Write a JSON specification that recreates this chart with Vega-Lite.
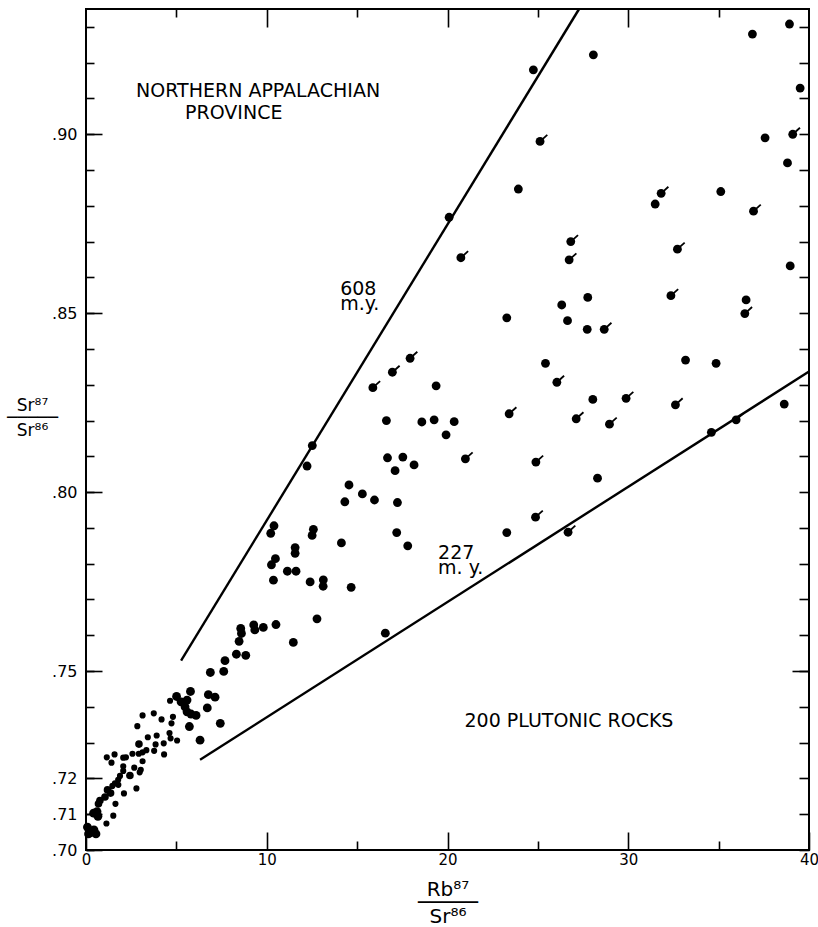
{
  "$schema": "https://vega.github.io/schema/vega-lite/v6.json",
  "width": 723,
  "height": 841,
  "autosize": {"type": "none"},
  "padding": {"left": 86, "top": 9, "right": 9, "bottom": 77},
  "background": "white",
  "config": {
    "view": {"stroke": "black", "strokeWidth": 2},
    "axis": {
      "domain": false, "grid": false, "tickColor": "black", "tickWidth": 1.6,
      "labelFont": "DejaVu Sans", "labelFontSize": 16, "labelColor": "black",
      "titleFont": "DejaVu Sans", "titleColor": "black", "titleFontWeight": "normal",
      "labelFlush": false, "labelOverlap": false
    }
  },
  "datasets": {
    "rocks": [
      {"rb":24.75,"sr":0.918,"group":"L","flag":0},{"rb":28.07,"sr":0.9222,"group":"L","flag":0},{"rb":36.87,"sr":0.928,"group":"L","flag":0},{"rb":38.92,"sr":0.9308,"group":"L","flag":0},{"rb":39.51,"sr":0.9129,"group":"L","flag":0},{"rb":25.12,"sr":0.898,"group":"L","flag":1},{"rb":37.57,"sr":0.899,"group":"L","flag":0},{"rb":39.1,"sr":0.9,"group":"L","flag":1},{"rb":38.81,"sr":0.892,"group":"L","flag":0},{"rb":23.92,"sr":0.8847,"group":"L","flag":0},{"rb":31.82,"sr":0.8835,"group":"L","flag":1},{"rb":31.49,"sr":0.8805,"group":"L","flag":0},{"rb":35.12,"sr":0.884,"group":"L","flag":0},{"rb":36.93,"sr":0.8785,"group":"L","flag":1},{"rb":26.82,"sr":0.87,"group":"L","flag":1},{"rb":26.73,"sr":0.8649,"group":"L","flag":1},{"rb":32.72,"sr":0.8679,"group":"L","flag":1},{"rb":38.96,"sr":0.8632,"group":"L","flag":0},
      {"rb":26.32,"sr":0.8523,"group":"L","flag":0},{"rb":27.76,"sr":0.8544,"group":"L","flag":0},{"rb":26.64,"sr":0.8479,"group":"L","flag":0},{"rb":27.73,"sr":0.8455,"group":"L","flag":0},{"rb":28.67,"sr":0.8455,"group":"L","flag":1},{"rb":32.36,"sr":0.8549,"group":"L","flag":1},{"rb":36.52,"sr":0.8537,"group":"L","flag":0},{"rb":36.45,"sr":0.8499,"group":"L","flag":1},{"rb":25.42,"sr":0.836,"group":"L","flag":0},{"rb":26.05,"sr":0.8307,"group":"L","flag":1},{"rb":33.17,"sr":0.8369,"group":"L","flag":0},{"rb":34.86,"sr":0.836,"group":"L","flag":0},{"rb":28.04,"sr":0.8259,"group":"L","flag":0},{"rb":29.88,"sr":0.8262,"group":"L","flag":1},{"rb":27.12,"sr":0.8205,"group":"L","flag":1},{"rb":28.96,"sr":0.819,"group":"L","flag":1},{"rb":32.61,"sr":0.8244,"group":"L","flag":1},{"rb":38.63,"sr":0.8246,"group":"L","flag":0},{"rb":35.97,"sr":0.8202,"group":"L","flag":1},{"rb":34.6,"sr":0.8167,"group":"L","flag":0},{"rb":24.89,"sr":0.8084,"group":"L","flag":1},{"rb":28.3,"sr":0.8039,"group":"L","flag":0},{"rb":24.87,"sr":0.793,"group":"L","flag":1},{"rb":26.67,"sr":0.7888,"group":"L","flag":1},
      {"rb":20.09,"sr":0.8768,"group":"L","flag":0},{"rb":20.74,"sr":0.8655,"group":"L","flag":1},{"rb":23.28,"sr":0.8487,"group":"L","flag":0},{"rb":17.93,"sr":0.8374,"group":"L","flag":1},{"rb":16.95,"sr":0.8335,"group":"L","flag":1},{"rb":15.87,"sr":0.8292,"group":"L","flag":1},{"rb":19.37,"sr":0.8297,"group":"L","flag":0},
      {"rb":23.41,"sr":0.8219,"group":"L","flag":1},{"rb":16.62,"sr":0.82,"group":"L","flag":0},{"rb":18.58,"sr":0.8196,"group":"L","flag":0},{"rb":19.26,"sr":0.8202,"group":"L","flag":0},{"rb":20.37,"sr":0.8197,"group":"L","flag":0},{"rb":19.92,"sr":0.816,"group":"L","flag":0},{"rb":16.68,"sr":0.8096,"group":"L","flag":0},{"rb":17.53,"sr":0.8098,"group":"L","flag":0},{"rb":17.1,"sr":0.806,"group":"L","flag":0},{"rb":18.15,"sr":0.8076,"group":"L","flag":0},{"rb":20.99,"sr":0.8093,"group":"L","flag":1},{"rb":15.29,"sr":0.7995,"group":"L","flag":0},{"rb":15.96,"sr":0.7978,"group":"L","flag":0},{"rb":17.23,"sr":0.7971,"group":"L","flag":0},{"rb":17.19,"sr":0.7887,"group":"L","flag":0},{"rb":17.8,"sr":0.785,"group":"L","flag":0},{"rb":23.28,"sr":0.7887,"group":"L","flag":0},
      {"rb":12.52,"sr":0.813,"group":"L","flag":0},{"rb":12.23,"sr":0.8073,"group":"L","flag":0},{"rb":14.55,"sr":0.802,"group":"L","flag":0},{"rb":14.32,"sr":0.7973,"group":"L","flag":0},{"rb":10.4,"sr":0.7906,"group":"L","flag":0},{"rb":10.22,"sr":0.7885,"group":"L","flag":0},{"rb":12.58,"sr":0.7896,"group":"L","flag":0},{"rb":12.51,"sr":0.7879,"group":"L","flag":0},{"rb":11.57,"sr":0.7845,"group":"L","flag":0},{"rb":11.57,"sr":0.7829,"group":"L","flag":0},{"rb":14.13,"sr":0.7858,"group":"L","flag":0},{"rb":10.48,"sr":0.7814,"group":"L","flag":0},{"rb":10.26,"sr":0.7797,"group":"L","flag":0},{"rb":11.14,"sr":0.7779,"group":"L","flag":0},{"rb":11.62,"sr":0.7779,"group":"L","flag":0},{"rb":10.37,"sr":0.7754,"group":"L","flag":0},{"rb":12.4,"sr":0.7749,"group":"L","flag":0},{"rb":13.13,"sr":0.7755,"group":"L","flag":0},{"rb":13.12,"sr":0.7737,"group":"L","flag":0},{"rb":14.67,"sr":0.7734,"group":"L","flag":0},{"rb":12.78,"sr":0.7646,"group":"L","flag":0},{"rb":16.56,"sr":0.7606,"group":"L","flag":0},{"rb":8.56,"sr":0.7619,"group":"L","flag":0},{"rb":8.6,"sr":0.7605,"group":"L","flag":0},{"rb":9.28,"sr":0.7629,"group":"L","flag":0},{"rb":9.34,"sr":0.7615,"group":"L","flag":0},{"rb":9.81,"sr":0.7622,"group":"L","flag":0},{"rb":10.51,"sr":0.763,"group":"L","flag":0},{"rb":11.47,"sr":0.758,"group":"L","flag":0},{"rb":8.47,"sr":0.7583,"group":"L","flag":0},{"rb":7.69,"sr":0.7529,"group":"L","flag":0},{"rb":8.32,"sr":0.7547,"group":"L","flag":0},{"rb":8.84,"sr":0.7544,"group":"L","flag":0},{"rb":6.88,"sr":0.7496,"group":"L","flag":0},{"rb":7.62,"sr":0.7499,"group":"L","flag":0},
      {"rb":5.78,"sr":0.7443,"group":"L","flag":0},{"rb":5.59,"sr":0.7419,"group":"L","flag":0},{"rb":5.01,"sr":0.7429,"group":"L","flag":0},{"rb":5.26,"sr":0.7414,"group":"L","flag":0},{"rb":5.48,"sr":0.74,"group":"L","flag":0},{"rb":5.59,"sr":0.7386,"group":"L","flag":0},{"rb":5.81,"sr":0.738,"group":"L","flag":0},{"rb":6.09,"sr":0.7376,"group":"L","flag":0},{"rb":6.77,"sr":0.7434,"group":"L","flag":0},{"rb":7.14,"sr":0.7427,"group":"L","flag":0},{"rb":6.71,"sr":0.7397,"group":"L","flag":0},{"rb":5.72,"sr":0.7345,"group":"L","flag":0},{"rb":6.31,"sr":0.7307,"group":"L","flag":0},{"rb":7.43,"sr":0.7354,"group":"L","flag":0},
      {"rb":0.42,"sr":0.7103,"group":"L","flag":0},{"rb":0.61,"sr":0.7107,"group":"L","flag":0},{"rb":0.66,"sr":0.7094,"group":"L","flag":0},{"rb":0.08,"sr":0.7064,"group":"L","flag":0},{"rb":0.22,"sr":0.7048,"group":"L","flag":0},{"rb":0.44,"sr":0.7056,"group":"L","flag":0},{"rb":0.55,"sr":0.7045,"group":"L","flag":0},{"rb":0.14,"sr":0.7045,"group":"L","flag":0},
      {"rb":2.93,"sr":0.7296,"group":"M","flag":0},{"rb":2.43,"sr":0.7208,"group":"M","flag":0},{"rb":1.19,"sr":0.7168,"group":"M","flag":0},{"rb":1.36,"sr":0.7159,"group":"M","flag":0},{"rb":0.77,"sr":0.7138,"group":"M","flag":0},{"rb":0.69,"sr":0.7129,"group":"M","flag":0},{"rb":1.05,"sr":0.7148,"group":"M","flag":0},
      {"rb":4.65,"sr":0.7417,"group":"S","flag":0},{"rb":3.13,"sr":0.7376,"group":"S","flag":0},{"rb":3.75,"sr":0.7382,"group":"S","flag":0},{"rb":4.18,"sr":0.7365,"group":"S","flag":0},{"rb":4.81,"sr":0.7372,"group":"S","flag":0},{"rb":4.73,"sr":0.7354,"group":"S","flag":0},{"rb":2.84,"sr":0.7346,"group":"S","flag":0},{"rb":4.62,"sr":0.7327,"group":"S","flag":0},{"rb":4.68,"sr":0.7312,"group":"S","flag":0},{"rb":5.04,"sr":0.7306,"group":"S","flag":0},{"rb":3.91,"sr":0.732,"group":"S","flag":0},{"rb":3.42,"sr":0.7315,"group":"S","flag":0},{"rb":4.3,"sr":0.7298,"group":"S","flag":0},{"rb":3.85,"sr":0.7295,"group":"S","flag":0},{"rb":3.34,"sr":0.7279,"group":"S","flag":0},{"rb":3.13,"sr":0.7273,"group":"S","flag":0},{"rb":2.92,"sr":0.7269,"group":"S","flag":0},{"rb":3.77,"sr":0.7277,"group":"S","flag":0},{"rb":4.32,"sr":0.7267,"group":"S","flag":0},{"rb":2.57,"sr":0.7269,"group":"S","flag":0},{"rb":2.21,"sr":0.7259,"group":"S","flag":0},{"rb":2.06,"sr":0.7258,"group":"S","flag":0},{"rb":1.15,"sr":0.7259,"group":"S","flag":0},{"rb":1.58,"sr":0.7267,"group":"S","flag":0},{"rb":1.41,"sr":0.7244,"group":"S","flag":0},{"rb":3.13,"sr":0.7248,"group":"S","flag":0},{"rb":3.03,"sr":0.7224,"group":"S","flag":0},{"rb":2.67,"sr":0.723,"group":"S","flag":0},{"rb":2.06,"sr":0.7234,"group":"S","flag":0},{"rb":2.06,"sr":0.7221,"group":"S","flag":0},{"rb":2.97,"sr":0.7217,"group":"S","flag":0},{"rb":1.88,"sr":0.7207,"group":"S","flag":0},{"rb":1.78,"sr":0.7196,"group":"S","flag":0},{"rb":2.79,"sr":0.7172,"group":"S","flag":0},{"rb":1.6,"sr":0.7186,"group":"S","flag":0},{"rb":1.79,"sr":0.7182,"group":"S","flag":0},{"rb":1.46,"sr":0.7179,"group":"S","flag":0},{"rb":2.1,"sr":0.7158,"group":"S","flag":0},{"rb":1.63,"sr":0.7129,"group":"S","flag":0},{"rb":1.51,"sr":0.7096,"group":"S","flag":0},{"rb":1.13,"sr":0.7074,"group":"S","flag":0}
    ],
    "isochrons": [
      {"age":"608 m.y.","rb":5.26,"sr":0.7529},{"age":"608 m.y.","rb":27.28,"sr":0.935},
      {"age":"227 m.y.","rb":6.31,"sr":0.7252},{"age":"227 m.y.","rb":40,"sr":0.8337}
    ],
    "notes": [
      {"label":"NORTHERN APPALACHIAN","rb":2.77,"sr":0.9104},
      {"label":"PROVINCE","rb":5.48,"sr":0.9043},
      {"label":"608","rb":14.06,"sr":0.8551},
      {"label":"m.y.","rb":14.06,"sr":0.8509},
      {"label":"227","rb":19.48,"sr":0.7812},
      {"label":"m. y.","rb":19.48,"sr":0.7772},
      {"label":"200 PLUTONIC ROCKS","rb":20.94,"sr":0.7344}
    ]
  },
  "resolve": {"axis": {"x": "independent", "y": "independent"}},
  "layer": [
    {
      "data": {"name": "isochrons"},
      "mark": {"type": "line", "color": "black", "strokeWidth": 2.4},
      "encoding": {
        "x": {"field": "rb", "type": "quantitative", "scale": {"domain": [0, 40], "nice": false, "zero": false},
              "axis": {"orient": "bottom", "values": [5, 15, 25, 35], "tickSize": -9, "labels": false, "title": null}},
        "y": {"field": "sr", "type": "quantitative", "scale": {"domain": [0.7, 0.935], "nice": false, "zero": false},
              "axis": {"orient": "left", "values": [0.7,0.71,0.72,0.73,0.74,0.75,0.76,0.77,0.78,0.79,0.8,0.81,0.82,0.83,0.84,0.85,0.86,0.87,0.88,0.89,0.9,0.91,0.92,0.93], "tickSize": -8, "labels": false, "title": null}},
        "detail": {"field": "age"}
      }
    },
    {
      "data": {"name": "rocks"},
      "mark": {"type": "circle", "color": "black", "opacity": 1},
      "encoding": {
        "x": {"field": "rb", "type": "quantitative", "scale": {"domain": [0, 40], "nice": false, "zero": false},
              "axis": {"orient": "bottom", "values": [0, 10, 20, 30, 40], "tickSize": -18, "labelPadding": 20, "format": "d", "labelFontSize": 15,
                       "title": ["Rb⁸⁷", "─────", "Sr⁸⁶"], "titleFontSize": 20, "titleLineHeight": 13.5,
                       "titleX": 361.5, "titleY": 45, "titleAlign": "center", "titleBaseline": "alphabetic", "titleAngle": 0}},
        "y": {"field": "sr", "type": "quantitative", "scale": {"domain": [0.7, 0.935], "nice": false, "zero": false},
              "axis": {"orient": "left", "values": [0.7, 0.71, 0.72, 0.75, 0.8, 0.85, 0.9], "tickSize": -16, "labelPadding": 25,
                       "labelExpr": "'.' + substring(format(datum.value, '.2f'), 2)",
                       "title": ["Sr⁸⁷", "─────", "Sr⁸⁶"], "titleFontSize": 17, "titleLineHeight": 12.5,
                       "titleX": -54, "titleY": 401, "titleAlign": "center", "titleBaseline": "alphabetic", "titleAngle": 0}},
        "size": {"field": "group", "type": "nominal", "scale": {"domain": ["L", "M", "S"], "range": [78, 38, 17]}, "legend": null}
      }
    },
    {
      "data": {"name": "rocks"},
      "transform": [{"filter": "datum.flag == 1"}],
      "mark": {"type": "point", "shape": "M0,0L1,-0.9", "filled": false, "color": "black", "strokeWidth": 1.8, "size": 210, "opacity": 1},
      "encoding": {
        "x": {"field": "rb", "type": "quantitative", "scale": {"domain": [0, 40], "nice": false, "zero": false},
              "axis": {"orient": "top", "values": [5, 15, 25, 35], "tickSize": -8, "labels": false, "title": null}},
        "y": {"field": "sr", "type": "quantitative", "scale": {"domain": [0.7, 0.935], "nice": false, "zero": false},
              "axis": {"orient": "right", "values": [0.7,0.71,0.72,0.73,0.74,0.75,0.76,0.77,0.78,0.79,0.8,0.81,0.82,0.83,0.84,0.85,0.86,0.87,0.88,0.89,0.9,0.91,0.92,0.93], "tickSize": -10, "labels": false, "title": null}}
      }
    },
    {
      "data": {"name": "notes"},
      "mark": {"type": "text", "align": "left", "baseline": "alphabetic", "font": "DejaVu Sans", "fontSize": 19, "color": "black"},
      "encoding": {
        "x": {"field": "rb", "type": "quantitative", "scale": {"domain": [0, 40], "nice": false, "zero": false},
              "axis": {"orient": "top", "values": [10, 20, 30], "tickSize": -18, "labels": false, "title": null}},
        "y": {"field": "sr", "type": "quantitative", "scale": {"domain": [0.7, 0.935], "nice": false, "zero": false},
              "axis": {"orient": "right", "values": [0.75], "tickSize": -17, "labels": false, "title": null}},
        "text": {"field": "label", "type": "nominal"}
      }
    }
  ]
}
